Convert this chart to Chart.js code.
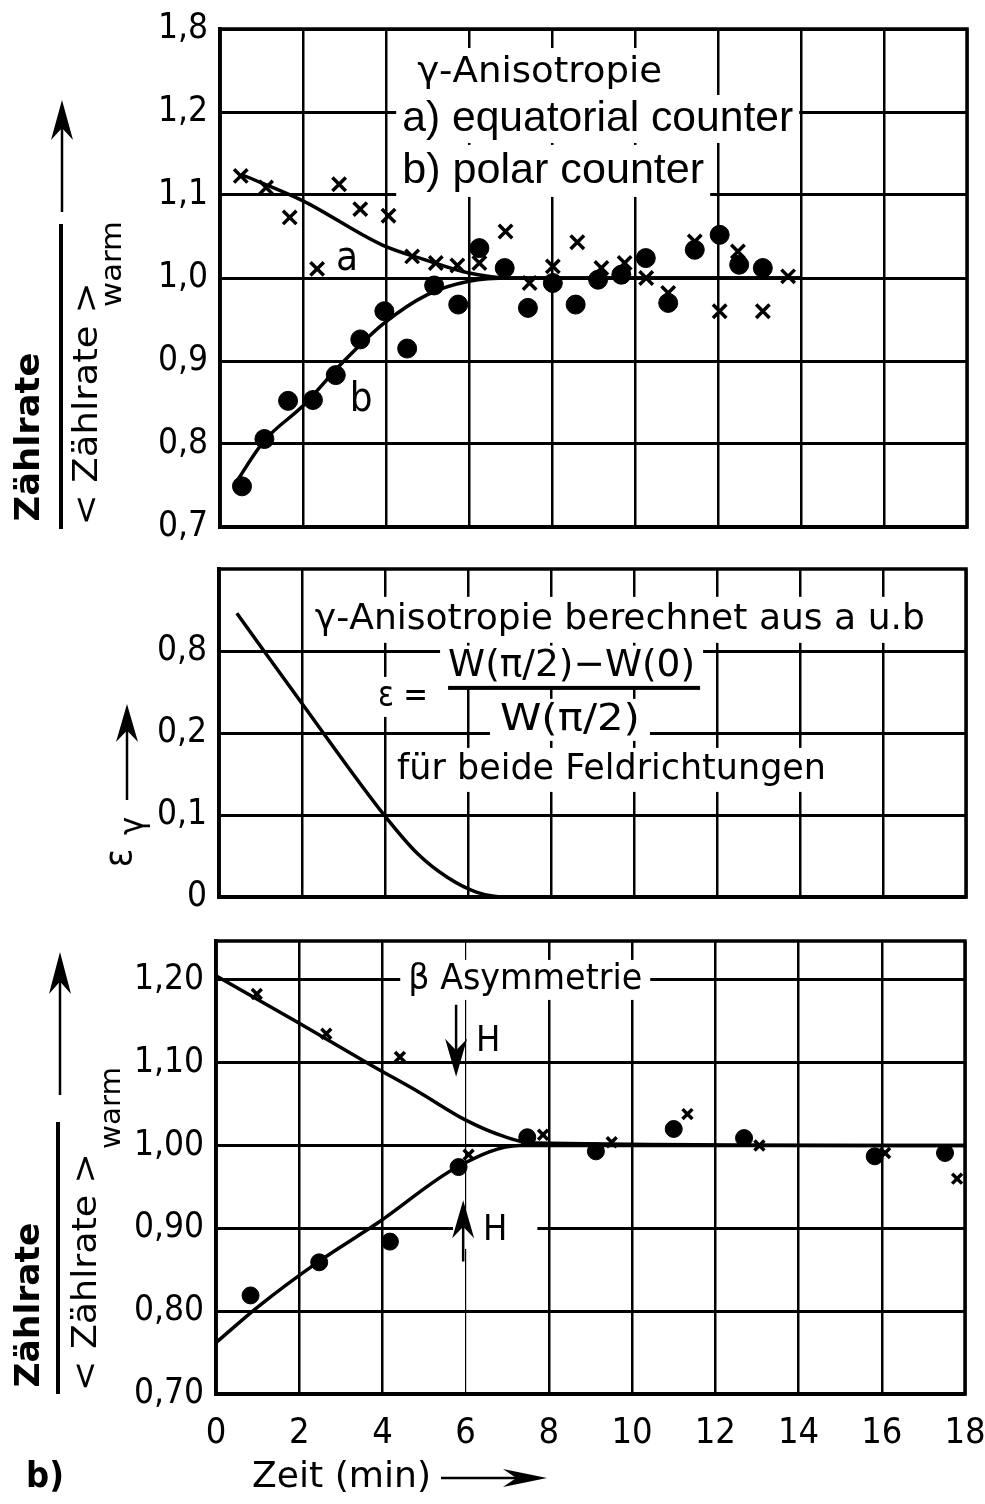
<!DOCTYPE html>
<html>
<head>
<meta charset="utf-8">
<script src="https://cdn.jsdelivr.net/npm/chart.js@4.4.0/dist/chart.umd.min.js"></script>
<style>
  html, body { margin: 0; padding: 0; background: #fff; }
  #wrap { position: relative; width: 985px; height: 1504px; }
  canvas { position: absolute; left: 0; top: 0; }
</style>
</head>
<body>
<div id="wrap">
  <canvas id="gamma" width="985" height="1504"></canvas>
  <canvas id="eps" width="985" height="1504"></canvas>
  <canvas id="beta" width="985" height="1504"></canvas>
</div>
<script>
const xTicks = [0, 2, 4, 6, 8, 10, 12, 14, 16, 18];

// panel 1: gamma anisotropy, counting rate ratio
const gammaTicks = [0.7, 0.8, 0.9, 1.0, 1.1, 1.2, 1.3];
const gammaLabels = ['0,7', '0,8', '0,9', '1,0', '1,1', '1,2', '1,8'];
const equatX = [0.50, 1.11, 1.68, 2.34, 2.87, 3.38, 4.06, 4.63, 5.20, 5.72, 6.25, 6.88, 7.46, 8.02, 8.61, 9.19, 9.75, 10.27, 10.80, 11.44, 12.04, 12.48, 13.08, 13.69];
const equatY = [1.123, 1.109, 1.073, 1.011, 1.113, 1.083, 1.075, 1.026, 1.018, 1.015, 1.018, 1.056, 0.994, 1.014, 1.043, 1.012, 1.018, 1.000, 0.982, 1.044, 0.960, 1.032, 0.960, 1.002];
const polarX = [0.53, 1.07, 1.64, 2.24, 2.79, 3.38, 3.96, 4.51, 5.16, 5.74, 6.25, 6.86, 7.42, 8.02, 8.57, 9.11, 9.67, 10.26, 10.80, 11.44, 12.04, 12.51, 13.08];
const polarY = [0.749, 0.806, 0.852, 0.853, 0.883, 0.926, 0.960, 0.915, 0.991, 0.968, 1.036, 1.012, 0.964, 0.994, 0.968, 0.998, 1.004, 1.024, 0.970, 1.034, 1.052, 1.016, 1.012];
const fitAX = [0.5, 2.0, 3.9, 5.0, 6.0, 7.0, 14.0];
const fitAY = [1.125, 1.093, 1.040, 1.021, 1.006, 1.0, 1.0];
const fitBX = [0.35, 1.07, 2.0, 2.97, 3.94, 5.0, 6.0, 7.0, 14.0];
const fitBY = [0.751, 0.804, 0.846, 0.899, 0.945, 0.980, 0.996, 1.0, 1.0];

// panel 2: epsilon_gamma
const epsTicks = [0, 0.1, 0.2, 0.3];
const epsLabels = ['0', '0,1', '0,2', '0,8'];
const epsX = [0.43, 2.0, 4.01, 4.8, 5.5, 6.2, 6.9, 18];
const epsY = [0.346, 0.236, 0.098, 0.052, 0.024, 0.006, 0, 0];

// panel 3: beta asymmetry
const betaTicks = [0.7, 0.8, 0.9, 1.0, 1.1, 1.2];
const betaLabels = ['0,70', '0,80', '0,90', '1,00', '1,10', '1,20'];
const downX = [0.98, 2.65, 4.42, 6.07, 7.86, 9.51, 11.33, 13.06, 16.08, 17.81];
const downY = [1.183, 1.135, 1.107, 0.989, 1.013, 1.004, 1.038, 1.000, 0.991, 0.960];
const upX = [0.83, 2.48, 4.18, 5.83, 7.48, 9.13, 11.0, 12.69, 15.83, 17.52];
const upY = [0.819, 0.859, 0.884, 0.974, 1.010, 0.993, 1.020, 1.009, 0.987, 0.991];
const fitDownX = [0, 1.96, 3.73, 4.86, 5.99, 6.92, 7.6, 18];
const fitDownY = [1.205, 1.149, 1.097, 1.065, 1.031, 1.011, 1.003, 1.0];
const fitUpX = [0, 1.0, 2.44, 3.9, 5.83, 7.3, 18];
const fitUpY = [0.762, 0.805, 0.859, 0.907, 0.975, 1.0, 1.0];

const W = 985, H = 1504;
const SANS = '"DejaVu Sans Condensed", "DejaVu Sans", sans-serif';
const ARIAL = '"Liberation Sans", Arial, sans-serif';

function pts(xs, ys) {
  return xs.map((x, i) => ({ x: x, y: ys[i] }));
}

function crosses(xs, ys, r) {
  return { data: pts(xs, ys), pointStyle: 'crossRot', pointRadius: r, borderColor: '#000', borderWidth: 3.5, showLine: false };
}

function dots(xs, ys, r) {
  return { data: pts(xs, ys), pointStyle: 'circle', pointRadius: r, backgroundColor: '#000', borderColor: '#000', borderWidth: 1, showLine: false };
}

function curve(xs, ys) {
  return { data: pts(xs, ys), showLine: true, pointRadius: 0, borderColor: '#000', borderWidth: 3.5, cubicInterpolationMode: 'monotone', fill: false };
}

// text drawn at px,py (left or centre, middle baseline), squeezed to width w if given
function drawText(ctx, t, px, py) {
  ctx.save();
  ctx.font = t.font;
  ctx.textBaseline = 'middle';
  ctx.textAlign = 'left';
  const m = ctx.measureText(t.text).width;
  const w = t.w || m;
  const left = t.align === 'center' ? px - w / 2 : px;
  if (t.bg) {
    ctx.fillStyle = '#fff';
    ctx.fillRect(left - t.bg, py - t.h / 2, w + 2 * t.bg, t.h);
  }
  ctx.translate(left, py);
  ctx.scale(w / m, 1);
  ctx.fillStyle = '#000';
  ctx.fillText(t.text, 0, 0);
  ctx.restore();
}

function vText(ctx, text, cx, cy, font, len) {
  ctx.save();
  ctx.translate(cx, cy);
  ctx.rotate(-Math.PI / 2);
  drawText(ctx, { text: text, font: font, w: len, align: 'center' }, 0, 0);
  ctx.restore();
}

function arrow(ctx, x1, y1, x2, y2, head, half) {
  const dx = x2 - x1, dy = y2 - y1, len = Math.hypot(dx, dy);
  const ux = dx / len, uy = dy / len;
  ctx.save();
  ctx.strokeStyle = '#000';
  ctx.fillStyle = '#000';
  ctx.lineWidth = 2.5;
  ctx.beginPath();
  ctx.moveTo(x1, y1);
  ctx.lineTo(x2 - ux * head * 0.6, y2 - uy * head * 0.6);
  ctx.stroke();
  const bx = x2 - ux * head, by = y2 - uy * head;
  ctx.beginPath();
  ctx.moveTo(x2, y2);
  ctx.lineTo(bx - uy * half, by + ux * half);
  ctx.lineTo(x2 - ux * head * 0.7, y2 - uy * head * 0.7);
  ctx.lineTo(bx + uy * half, by - ux * half);
  ctx.closePath();
  ctx.fill();
  ctx.restore();
}

function decor(notes, extra, titles) {
  return {
    id: 'decor',
    beforeDatasetsDraw(chart) {
      const ctx = chart.ctx, xs = chart.scales.x, ys = chart.scales.y;
      notes.forEach(n => drawText(ctx, n, xs.getPixelForValue(n.x), ys.getPixelForValue(n.y)));
      if (extra) extra(ctx, xs, ys);
    },
    afterDraw(chart) {
      const a = chart.chartArea, ctx = chart.ctx;
      ctx.save();
      ctx.strokeStyle = '#000';
      ctx.lineWidth = 3.5;
      ctx.strokeRect(a.left, a.top, a.right - a.left, a.bottom - a.top);
      ctx.restore();
      if (titles) titles(ctx);
    }
  };
}

function panel(id, box, yMin, yMax, ticks, labels, showX, datasets, plugin) {
  const xH = showX ? 66 : 0;
  return new Chart(document.getElementById(id), {
    type: 'scatter',
    data: { datasets: datasets },
    options: {
      responsive: false,
      animation: false,
      events: [],
      layout: { padding: { left: 0, top: box.top, right: W - box.right, bottom: H - box.bottom - xH } },
      plugins: { legend: { display: false }, tooltip: { enabled: false } },
      scales: {
        x: {
          type: 'linear', min: 0, max: 18,
          afterBuildTicks: s => { s.ticks = xTicks.map(v => ({ value: v })); },
          afterFit: s => { s.height = xH; s.paddingLeft = 0; s.paddingRight = 0; },
          grid: { color: '#000', lineWidth: c => (id === 'beta' && c.tick && c.tick.value === 6) ? 1.2 : 2.5, drawTicks: false },
          border: { color: '#000', width: 3.5 },
          ticks: { display: showX, autoSkip: false, maxRotation: 0, color: '#000', padding: 18, font: { family: SANS, size: 36 } }
        },
        y: {
          type: 'linear', min: yMin, max: yMax,
          afterBuildTicks: s => { s.ticks = ticks.map(v => ({ value: v })); },
          afterFit: s => { s.width = box.left; s.paddingTop = 0; s.paddingBottom = 0; },
          grid: { color: '#000', lineWidth: 3, drawTicks: false },
          border: { color: '#000', width: 3.5 },
          ticks: { autoSkip: false, color: '#000', padding: 12, font: { family: SANS, size: 35 }, callback: (v, i) => labels[i] }
        }
      }
    },
    plugins: [plugin]
  });
}

// ---- panel 1
const gammaNotes = [
  { text: 'γ-Anisotropie', x: 4.75, y: 1.247, font: '36px ' + SANS, w: 245, bg: 8, h: 50 },
  { text: 'a) equatorial counter', x: 4.39, y: 1.1916, font: '42px ' + ARIAL, w: 391, bg: 6, h: 48 },
  { text: 'b) polar counter', x: 4.39, y: 1.129, font: '42px ' + ARIAL, w: 302, bg: 6, h: 52 },
  { text: 'a', x: 3.06, y: 1.022, font: '40px ' + SANS, align: 'center' },
  { text: 'b', x: 3.40, y: 0.852, font: '40px ' + SANS, align: 'center' }
];
panel('gamma', { left: 220, top: 29, right: 967, bottom: 527 }, 0.7, 1.3, gammaTicks, gammaLabels, false, [
  crosses(equatX, equatY, 9.5),
  dots(polarX, polarY, 9.5),
  curve(fitAX, fitAY),
  curve(fitBX, fitBY)
], decor(gammaNotes, null, ctx => {
  vText(ctx, 'Zählrate', 30, 437, 'bold 34px ' + SANS, 169);
  ctx.fillStyle = '#000';
  ctx.fillRect(59, 224, 4, 305);
  vText(ctx, '< Zählrate >', 88, 404, '34px ' + SANS, 243);
  vText(ctx, 'warm', 114, 264, '28px ' + SANS, 86);
  arrow(ctx, 62, 212, 62, 100, 40, 11);
}));

// ---- panel 2
const epsNotes = [
  { text: 'γ-Anisotropie berechnet aus a u.b', x: 2.31, y: 0.338, font: '36px ' + SANS, w: 610, bg: 8, h: 46 },
  { text: 'ε =', x: 3.83, y: 0.244, font: '36px ' + SANS, w: 50, bg: 6, h: 40 },
  { text: 'W(π/2)−W(0)', x: 5.52, y: 0.281, font: '38px ' + SANS, w: 247, bg: 8, h: 42 },
  { text: 'W(π/2)', x: 6.77, y: 0.216, font: '38px ' + SANS, w: 140, bg: 10, h: 42 },
  { text: 'für beide Feldrichtungen', x: 4.29, y: 0.155, font: '36px ' + SANS, w: 429, bg: 8, h: 44 }
];
panel('eps', { left: 219, top: 569, right: 966, bottom: 897 }, 0, 0.4, epsTicks, epsLabels, false, [
  curve(epsX, epsY)
], decor(epsNotes, (ctx, xs, ys) => {
  ctx.fillStyle = '#000';
  ctx.fillRect(xs.getPixelForValue(5.52), ys.getPixelForValue(0.255) - 2, 252, 4);
}, ctx => {
  vText(ctx, 'ε', 121, 858, '38px ' + SANS);
  vText(ctx, 'γ', 134, 826, '34px ' + SANS);
  arrow(ctx, 127, 800, 127, 704, 38, 11);
}));

// ---- panel 3
const betaNotes = [
  { text: 'β Asymmetrie', x: 4.62, y: 1.2, font: '36px ' + SANS, w: 234, bg: 8, h: 40 },
  { text: 'H', x: 6.54, y: 1.125, font: '36px ' + SANS, align: 'center' },
  { text: 'H', x: 6.71, y: 0.897, font: '36px ' + SANS, align: 'center', bg: 30, h: 36 }
];
panel('beta', { left: 216, top: 941, right: 965, bottom: 1394 }, 0.7, 1.247, betaTicks, betaLabels, true, [
  crosses(downX, downY, 7),
  dots(upX, upY, 8.5),
  curve(fitDownX, fitDownY),
  curve(fitUpX, fitUpY)
], decor(betaNotes, (ctx, xs, ys) => {
  const xd = xs.getPixelForValue(5.77), xu = xs.getPixelForValue(5.94);
  arrow(ctx, xd, ys.getPixelForValue(1.17), xd, ys.getPixelForValue(1.083), 38, 11);
  arrow(ctx, xu, ys.getPixelForValue(0.86), xu, ys.getPixelForValue(0.934), 38, 11);
}, ctx => {
  vText(ctx, 'Zählrate', 30, 1305, 'bold 34px ' + SANS, 165);
  ctx.fillStyle = '#000';
  ctx.fillRect(56, 1122, 4, 272);
  vText(ctx, '< Zählrate >', 87, 1272, '34px ' + SANS, 238);
  vText(ctx, 'warm', 113, 1108, '28px ' + SANS, 82);
  arrow(ctx, 60, 1095, 60, 952, 42, 11);
  drawText(ctx, { text: 'b)', font: 'bold 36px ' + SANS }, 26, 1478);
  drawText(ctx, { text: 'Zeit (min)', font: '36px ' + SANS, w: 179 }, 252, 1478);
  arrow(ctx, 441, 1478, 547, 1478, 44, 9);
}));
</script>
</body>
</html>
